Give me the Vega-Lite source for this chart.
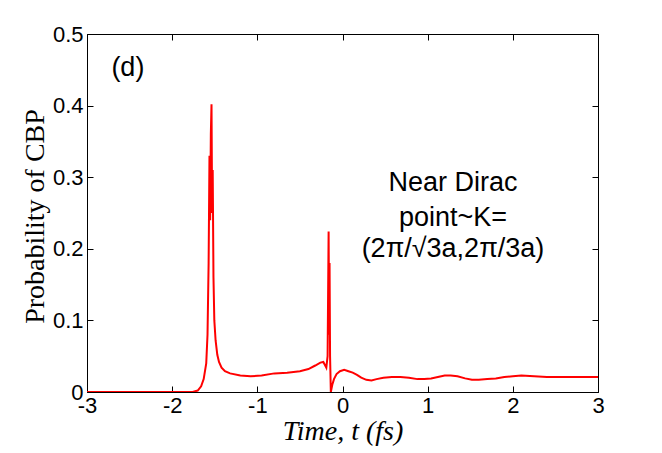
{
  "$schema": "https://vega.github.io/schema/vega-lite/v6.json",
  "width": 511,
  "height": 358,
  "autosize": {"type": "none"},
  "padding": {"left": 87, "top": 34, "right": 64, "bottom": 61},
  "background": "white",
  "config": {
    "view": {"stroke": "black", "strokeWidth": 1},
    "axis": {
      "grid": false,
      "domainColor": "black",
      "tickColor": "black",
      "tickSize": -6,
      "labelColor": "black",
      "labelFont": "Liberation Sans",
      "labelFontSize": 22,
      "labelFlush": false,
      "labelOverlap": false,
      "titleFont": "Liberation Serif",
      "titleFontSize": 28,
      "titleFontWeight": "normal",
      "titleColor": "black"
    }
  },
  "datasets": {
    "curve": [
      {"t": -3.0, "p": 0.0},
      {"t": -2.5, "p": 0.0},
      {"t": -2.0, "p": 0.0},
      {"t": -1.76, "p": 0.0},
      {"t": -1.7, "p": 0.002},
      {"t": -1.66, "p": 0.008},
      {"t": -1.63, "p": 0.018},
      {"t": -1.6, "p": 0.04},
      {"t": -1.585, "p": 0.08},
      {"t": -1.572, "p": 0.18},
      {"t": -1.562, "p": 0.33},
      {"t": -1.554, "p": 0.24},
      {"t": -1.546, "p": 0.36},
      {"t": -1.538, "p": 0.402},
      {"t": -1.531, "p": 0.25},
      {"t": -1.524, "p": 0.31},
      {"t": -1.515, "p": 0.16},
      {"t": -1.505, "p": 0.1},
      {"t": -1.49, "p": 0.072},
      {"t": -1.47, "p": 0.052},
      {"t": -1.45, "p": 0.042},
      {"t": -1.42, "p": 0.034},
      {"t": -1.38, "p": 0.029},
      {"t": -1.32, "p": 0.026},
      {"t": -1.2, "p": 0.023},
      {"t": -1.08, "p": 0.022},
      {"t": -0.95, "p": 0.023},
      {"t": -0.8, "p": 0.026},
      {"t": -0.65, "p": 0.027},
      {"t": -0.5, "p": 0.029},
      {"t": -0.4, "p": 0.032},
      {"t": -0.32, "p": 0.037},
      {"t": -0.26, "p": 0.041},
      {"t": -0.225, "p": 0.042},
      {"t": -0.19, "p": 0.034},
      {"t": -0.175, "p": 0.05},
      {"t": -0.163, "p": 0.224},
      {"t": -0.157, "p": 0.08},
      {"t": -0.152, "p": 0.18},
      {"t": -0.146, "p": 0.05},
      {"t": -0.137, "p": 0.0},
      {"t": -0.12, "p": 0.01},
      {"t": -0.1, "p": 0.018},
      {"t": -0.07, "p": 0.025},
      {"t": -0.03, "p": 0.029},
      {"t": 0.02, "p": 0.031},
      {"t": 0.07, "p": 0.029},
      {"t": 0.12, "p": 0.027},
      {"t": 0.17, "p": 0.024},
      {"t": 0.22, "p": 0.02},
      {"t": 0.28, "p": 0.017},
      {"t": 0.34, "p": 0.016},
      {"t": 0.4, "p": 0.018},
      {"t": 0.48, "p": 0.02},
      {"t": 0.58, "p": 0.021},
      {"t": 0.68, "p": 0.021},
      {"t": 0.78, "p": 0.02},
      {"t": 0.88, "p": 0.018},
      {"t": 0.96, "p": 0.018},
      {"t": 1.04, "p": 0.019},
      {"t": 1.12, "p": 0.021},
      {"t": 1.2, "p": 0.023},
      {"t": 1.27, "p": 0.023},
      {"t": 1.35, "p": 0.022},
      {"t": 1.44, "p": 0.019},
      {"t": 1.52, "p": 0.017},
      {"t": 1.6, "p": 0.017},
      {"t": 1.7, "p": 0.018},
      {"t": 1.8, "p": 0.019},
      {"t": 1.9, "p": 0.021},
      {"t": 2.0, "p": 0.022},
      {"t": 2.1, "p": 0.023},
      {"t": 2.25, "p": 0.022},
      {"t": 2.4, "p": 0.021},
      {"t": 2.6, "p": 0.021},
      {"t": 2.8, "p": 0.021},
      {"t": 3.0, "p": 0.021}
    ],
    "notes": [
      {"t": -2.52, "p": 0.4415, "label": "(d)"},
      {"t": 1.297, "p": 0.281, "label": "Near Dirac"},
      {"t": 1.297, "p": 0.232, "label": "point~K="},
      {"t": 1.297, "p": 0.189, "label": "(2π/√3a,2π/3a)"}
    ]
  },
  "layer": [
    {
      "data": {"name": "curve"},
      "mark": {"type": "line", "color": "#f00", "strokeWidth": 2, "clip": true},
      "encoding": {
        "x": {
          "field": "t", "type": "quantitative",
          "scale": {"domain": [-3, 3], "nice": false},
          "axis": {
            "values": [-3, -2, -1, 0, 1, 2, 3],
            "labelExpr": "'' + datum.value",
            "labelPadding": 9,
            "title": "Time, t (fs)",
            "titleFontStyle": "italic",
            "titleBaseline": "alphabetic",
            "titleY": 47
          }
        },
        "y": {
          "field": "p", "type": "quantitative",
          "scale": {"domain": [0, 0.5], "nice": false},
          "axis": {
            "values": [0, 0.1, 0.2, 0.3, 0.4, 0.5],
            "labelExpr": "datum.value == 0 ? '0' : format(datum.value, '.1f')",
            "labelPadding": 10,
            "title": "Probability of CBP",
            "titleBaseline": "alphabetic",
            "titleX": -44,
            "titleY": 182
          }
        }
      }
    },
    {
      "data": {"name": "notes"},
      "mark": {"type": "text", "font": "Liberation Sans", "fontSize": 27, "align": "center", "baseline": "alphabetic", "color": "black"},
      "encoding": {
        "x": {
          "field": "t", "type": "quantitative",
          "scale": {"domain": [-3, 3], "nice": false},
          "axis": {"orient": "top", "values": [-2, -1, 0, 1, 2], "labels": false, "title": null}
        },
        "y": {
          "field": "p", "type": "quantitative",
          "scale": {"domain": [0, 0.5], "nice": false},
          "axis": {"orient": "right", "values": [0.1, 0.2, 0.3, 0.4], "labels": false, "title": null}
        },
        "text": {"field": "label"}
      }
    }
  ],
  "resolve": {"axis": {"x": "independent", "y": "independent"}}
}
